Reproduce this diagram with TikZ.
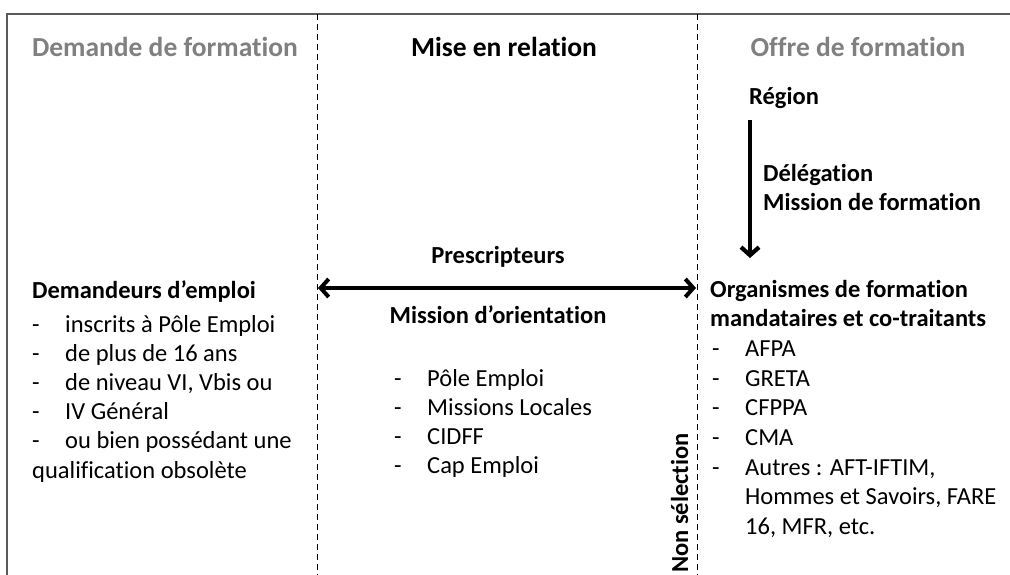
\documentclass[tikz,border=0pt]{standalone}
\usepackage{fontspec}
\setmainfont[Ligatures=NoCommon]{Carlito}
\usepackage{xcolor}
\usetikzlibrary{arrows.meta}

\definecolor{titelgrau}{RGB}{128,128,128}
\definecolor{rahmen}{RGB}{90,90,90}

\tikzset{
    titel/.style={font=\bfseries\fontsize{27.5}{33}\selectfont, inner sep=0pt, anchor=base},
    txt/.style={font=\fontsize{24.5}{29}\selectfont, inner sep=0pt, anchor=base west},
    btxt/.style={txt, font=\bfseries\fontsize{24.5}{29}\selectfont},
    trenner/.style={dash pattern=on 6pt off 4pt, line width=1pt},
    pfeil/.style={line width=4.2pt, -{Straight Barb[length=8pt,width=18pt]}},
    doppelpfeil/.style={line width=4pt, {Straight Barb[length=8pt,width=18pt]}-{Straight Barb[length=8pt,width=18pt]}}
}

\begin{document}
\begin{tikzpicture}[x=1pt,y=-1pt]
    \useasboundingbox (0,0) rectangle (1010,575);

    % Rahmen und Spalten
    \draw [rahmen, line width=1.3pt] (7,575) -- (7,14) -- (1010,14);
    \draw [trenner] (317,14) -- (317,575);
    \draw [trenner] (697,14) -- (697,575);

    % Titel
    \node [titel, titelgrau] (t-demande) at (165,57) {Demande de formation};
    \node [titel] (t-mise) at (504,57) {Mise en relation};
    \node [titel, titelgrau] (t-offre) at (858,57) {Offre de formation};

    % Demande
    \node [btxt] (demandeurs) at (32,298) {Demandeurs d’emploi};
    \foreach \y/\t [count=\i] in {332/{inscrits à Pôle Emploi}, 361/{de plus de 16 ans},
        390/{de niveau VI, Vbis ou}, 419/{IV Général}, 448/{ou bien possédant une}} {
        \node [txt] (dem-strich-\i) at (32,\y) {-};
        \node [txt] (dem-\i) at (65,\y) {\t};
    }
    \node [txt] (dem-6) at (32,478) {qualification obsolète};

    % Mise en relation
    \node [btxt, anchor=base] (prescripteurs) at (498,263) {Prescripteurs};
    \node [btxt, anchor=base] (orientation) at (498,323) {Mission d’orientation};
    \foreach \y/\t [count=\i] in {386/{Pôle Emploi}, 415/{Missions Locales}, 444/{CIDFF}, 473/{Cap Emploi}} {
        \node [txt] (mise-strich-\i) at (394,\y) {-};
        \node [txt] (mise-\i) at (427,\y) {\t};
    }
    \coordinate (links) at (318,288);
    \coordinate (rechts) at (696,288);
    \draw [doppelpfeil] (links) -- (rechts);

    \node [btxt, rotate=90] (nonsel) at (688,573) {Non sélection};

    % Offre
    \node [btxt] (region) at (749,105) {Région};
    \node [btxt] (delegation) at (763,182) {Délégation};
    \node [btxt] (missionform) at (763,211) {Mission de formation};
    \coordinate (oben) at (750,120);
    \coordinate (unten) at (750,258);
    \draw [pfeil] (oben) -- (unten);

    \node [btxt] (organismes) at (710,297) {Organismes de formation};
    \node [btxt] (mandataires) at (710,326) {mandataires et co-traitants};
    \foreach \y/\t [count=\i] in {356/{AFPA}, 386/{GRETA}, 415/{CFPPA}, 445/{CMA}, 475/{Autres : AFT-IFTIM,}} {
        \node [txt] (off-strich-\i) at (712,\y) {-};
        \node [txt] (off-\i) at (745,\y) {\t};
    }
    \node [txt] (off-6) at (745,504) {Hommes et Savoirs, FARE};
    \node [txt] (off-7) at (745,534) {16, MFR, etc.};
\end{tikzpicture}
\end{document}
